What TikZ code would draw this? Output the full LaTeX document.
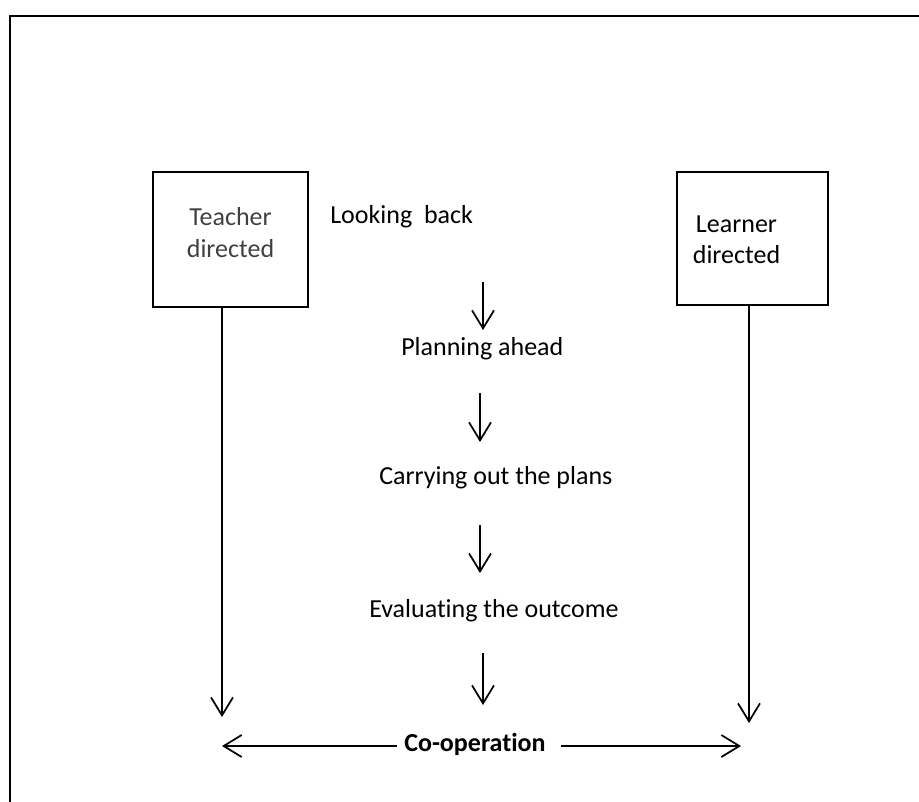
\documentclass[tikz,border=0pt]{standalone}
\usepackage{fontspec}
\setmainfont{Carlito}[Ligatures=NoCommon]
\usetikzlibrary{arrows.meta}
\definecolor{tgray}{HTML}{404040}
\begin{document}
\begin{tikzpicture}[x=0.75pt,y=-0.75pt,
  framest/.style={line width=1.5pt, line cap=rect},
  boxst/.style={draw, line width=1.5pt, inner sep=0pt},
  lbl/.style={font=\fontsize{19.5pt}{23.5pt}\selectfont, inner sep=0pt, align=center},
  arr/.style={line width=1.3pt, -{Straight Barb[length=13.5pt,width=16.5pt]}},
]
\useasboundingbox (0,0) rectangle (919,801);
% frame
\draw[framest] (10,801) -- (10,15.5) -- (919,15.5);
% boxes
\node[boxst, minimum width=116.25pt, minimum height=101.25pt] (tbox) at (230.5,239.5) {};
\node[boxst, minimum width=113.25pt, minimum height=99.75pt] (lbox) at (752.5,238.5) {};
\node[lbl, text=tgray] (ttext) at (230.5,232.5) {Teacher\\directed};
\node[lbl] (ltext) at (736.5,240) {Learner\\directed};
% flow texts
\node[lbl, anchor=base west] (lb) at (330,223) {Looking\ \ back};
\node[lbl, anchor=base west] (pa) at (401,355) {Planning ahead};
\node[lbl, anchor=base west] (co) at (379,484) {Carrying out the plans};
\node[lbl, anchor=base west] (ev) at (369,617) {Evaluating the outcome};
\node[lbl, anchor=base west, font=\fontsize{19.5pt}{23.5pt}\selectfont\bfseries] (coop) at (404,751) {Co-operation};
% arrow ends
\coordinate (a1s) at (483,282); \coordinate (a1e) at (483,330);
\coordinate (a2s) at (480,393); \coordinate (a2e) at (480,442);
\coordinate (a3s) at (480,525); \coordinate (a3e) at (480,573);
\coordinate (a4s) at (483,653); \coordinate (a4e) at (483,705);
\coordinate (tv) at (222,717);
\coordinate (lv) at (749,723);
\coordinate (cls) at (397,746); \coordinate (cl) at (222,746);
\coordinate (crs) at (561,746); \coordinate (cr) at (741,746);
\draw[arr] (a1s) -- (a1e);
\draw[arr] (a2s) -- (a2e);
\draw[arr] (a3s) -- (a3e);
\draw[arr] (a4s) -- (a4e);
\draw[arr] (tbox.south -| tv) -- (tv);
\draw[arr] (lbox.south -| lv) -- (lv);
\draw[arr] (cls) -- (cl);
\draw[arr] (crs) -- (cr);
\end{tikzpicture}
\end{document}
